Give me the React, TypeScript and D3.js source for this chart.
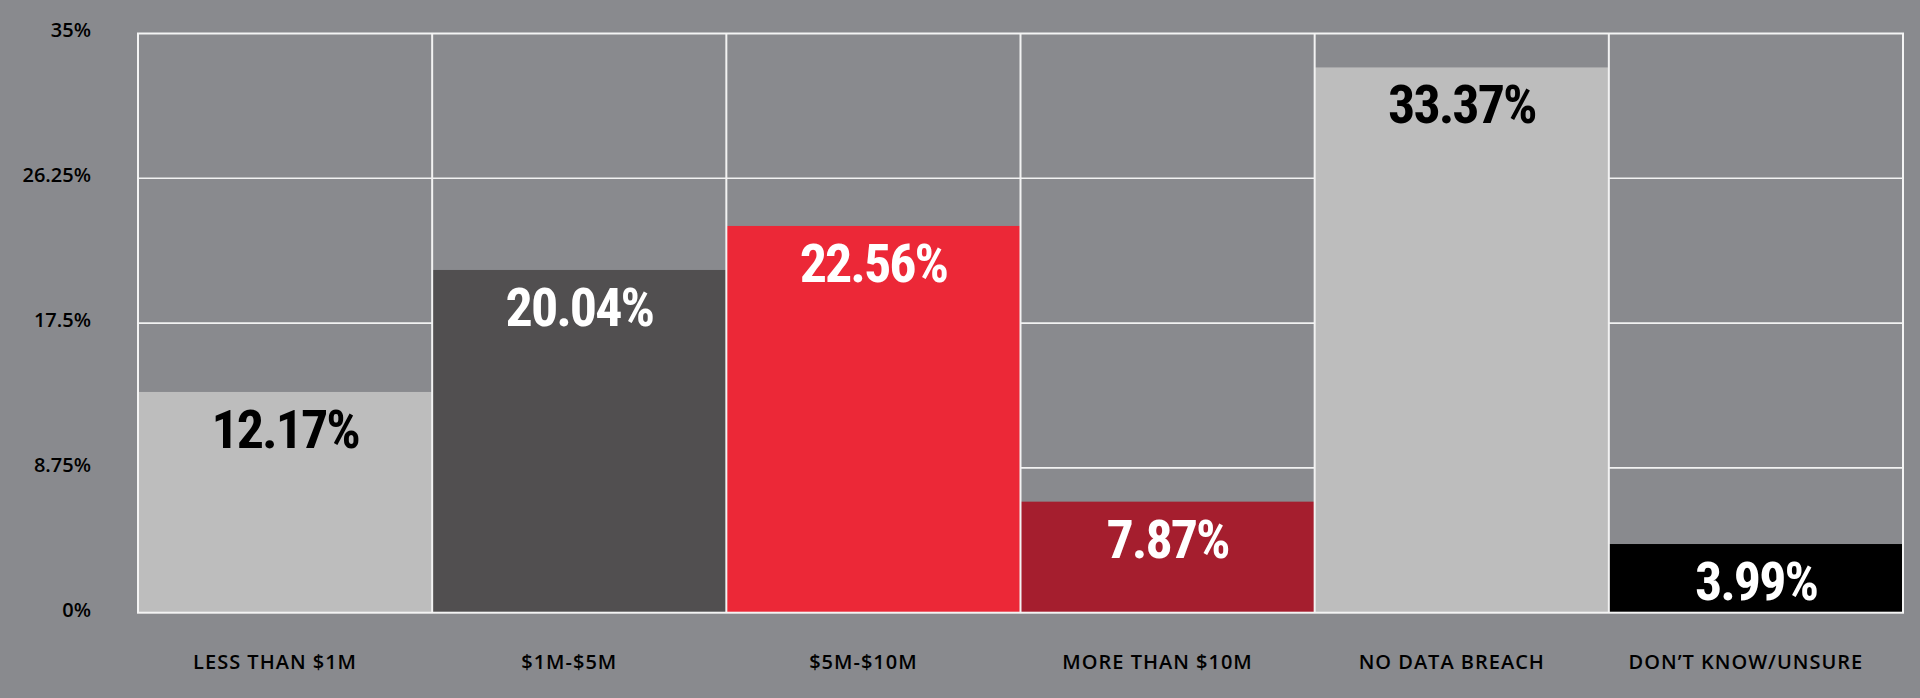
import React from "react";
import * as d3 from "d3";

const categories = ["LESS THAN $1M", "$1M-$5M", "$5M-$10M", "MORE THAN $10M", "NO DATA BREACH", "DON\u2019T KNOW/UNSURE"];
// bar heights as drawn in the reference (percent)
const barValues = [13.34, 20.71, 23.37, 6.71, 32.95, 4.15];
const valueLabels = ["12.17%", "20.04%", "22.56%", "7.87%", "33.37%", "3.99%"];
const barColors = ["#bdbdbd", "#514f50", "#ec2837", "#a51e2e", "#bdbdbd", "#000000"];
const labelColors = ["#000000", "#ffffff", "#ffffff", "#ffffff", "#000000", "#ffffff"];
const yTicks = [0, 8.75, 17.5, 26.25, 35];
const yTickLabels = ["0%", "8.75%", "17.5%", "26.25%", "35%"];

const W = 1920;
const H = 698;
const M = { left: 138, right: 17, top: 33.5, bottom: 85.3 };

export default function App() {
  const x = d3.scaleBand<string>().domain(categories).range([M.left, W - M.right]).padding(0);
  const y = d3.scaleLinear().domain([0, 35]).range([H - M.bottom, M.top]);
  const bw = x.bandwidth();
  const bounds = categories.map((c) => x(c) as number).concat([W - M.right]);

  return (
    <svg width={W} height={H} style={{ position: "absolute", left: 0, top: 0, display: "block" }}>
      <rect x={0} y={0} width={W} height={H} fill="#898a8e" />
      {yTicks.slice(1, -1).map((t) => (
        <line key={"g" + t} x1={M.left} x2={W - M.right} y1={y(t)} y2={y(t)} stroke="#f2f2f2" strokeWidth={1.6} />
      ))}
      {barValues.map((v, i) => (
        <rect key={"b" + i} x={x(categories[i])} y={y(v)} width={bw} height={y(0) - y(v)} fill={barColors[i]} />
      ))}
      {bounds.slice(1, -1).map((bx, i) => (
        <line key={"v" + i} x1={bx} x2={bx} y1={M.top} y2={H - M.bottom} stroke="#f2f2f2" strokeWidth={2} />
      ))}
      <rect x={M.left} y={M.top} width={W - M.left - M.right} height={H - M.top - M.bottom} fill="none" stroke="#f4f4f4" strokeWidth={2} />
      {barValues.map((v, i) => (
        <text
          key={"l" + i}
          x={(x(categories[i]) as number) + bw / 2}
          y={y(v) + 56}
          textAnchor="middle"
          fill={labelColors[i]}
          fontFamily="'Liberation Sans Narrow', 'Roboto Condensed', 'Arial Narrow', sans-serif"
          fontWeight={700}
          fontSize={54}
          letterSpacing={-2}
        >
          {valueLabels[i]}
        </text>
      ))}
      {yTicks.map((t, i) => (
        <text
          key={"t" + t}
          x={91}
          y={y(t) - 1.5}
          textAnchor="end"
          dominantBaseline="middle"
          fill="#000"
          fontFamily="'Open Sans', Roboto, sans-serif"
          fontWeight={600}
          fontSize={20}
        >
          {yTickLabels[i]}
        </text>
      ))}
      {categories.map((c) => (
        <text
          key={"c" + c}
          x={(x(c) as number) + bw / 2 - 10}
          y={669}
          textAnchor="middle"
          fill="#000"
          fontFamily="'Open Sans', Roboto, sans-serif"
          fontWeight={600}
          fontSize={20}
          letterSpacing={1}
        >
          {c}
        </text>
      ))}
    </svg>
  );
}
